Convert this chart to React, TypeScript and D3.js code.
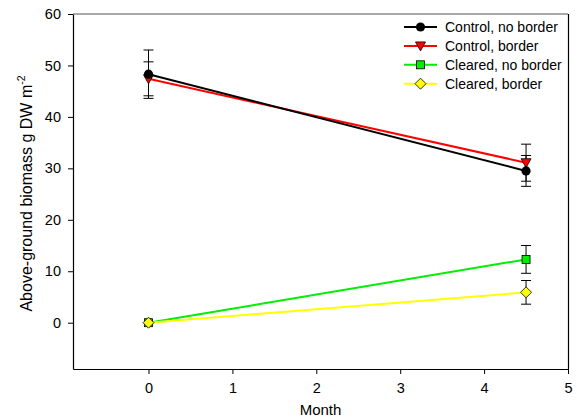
import React, { useEffect, useRef } from "react";
import * as d3 from "d3";

// x positions (months) and series values
const months = [0, 4.5];
const seriesNames = ["Control, no border", "Control, border", "Cleared, no border", "Cleared, border"];
const controlNoBorder = [48.3, 29.5];
const controlNoBorderErr = [4.7, 3.0];
const controlBorder = [47.4, 31.1];
const controlBorderErr = [3.3, 3.6];
const clearedNoBorder = [0, 12.3];
const clearedNoBorderErr = [0, 2.7];
const clearedBorder = [0, 5.9];
const clearedBorderErr = [0, 2.3];

const xTicks = [0, 1, 2, 3, 4, 5];
const yTicks = [0, 10, 20, 30, 40, 50, 60];

const FONT = "'Liberation Sans', Arial, sans-serif";

const App = () => {
  const svgRef = useRef<SVGSVGElement | null>(null);

  useEffect(() => {
    const width = 577,
      height = 418;
    const margin = { top: 14, right: 9, bottom: 49, left: 73 };

    const svg = d3.select(svgRef.current);
    svg.selectAll("*").remove();

    const x = d3
      .scaleLinear()
      .domain([-0.9, 5])
      .range([margin.left, width - margin.right]);
    const y = d3
      .scaleLinear()
      .domain([-9, 60])
      .range([height - margin.bottom, margin.top]);

    const series = [
      { name: seriesNames[0], values: controlNoBorder, err: controlNoBorderErr, color: "#000000", marker: "circle" },
      { name: seriesNames[1], values: controlBorder, err: controlBorderErr, color: "#ff0000", marker: "triangle" },
      { name: seriesNames[2], values: clearedNoBorder, err: clearedNoBorderErr, color: "#00ee00", marker: "square" },
      { name: seriesNames[3], values: clearedBorder, err: clearedBorderErr, color: "#ffff00", marker: "diamond" },
    ];

    // frame: top and right borders
    svg
      .append("line")
      .attr("x1", margin.left)
      .attr("x2", width - margin.right)
      .attr("y1", margin.top)
      .attr("y2", margin.top)
      .attr("stroke", "#555")
      .attr("stroke-width", 1.2);
    svg
      .append("line")
      .attr("x1", width - margin.right + 0.5)
      .attr("x2", width - margin.right + 0.5)
      .attr("y1", margin.top)
      .attr("y2", height - margin.bottom)
      .attr("stroke", "#000")
      .attr("stroke-width", 1.2);

    // axes
    const xAxis = svg
      .append("g")
      .attr("transform", `translate(0,${height - margin.bottom})`)
      .call(
        d3.axisBottom(x).tickValues(xTicks).tickFormat(d3.format("d")).tickSize(5).tickPadding(9).tickSizeOuter(0)
      );
    const yAxis = svg
      .append("g")
      .attr("transform", `translate(${margin.left},0)`)
      .call(
        d3.axisLeft(y).tickValues(yTicks).tickFormat(d3.format("d")).tickSize(5).tickPadding(7).tickSizeOuter(0)
      );

    [xAxis, yAxis].forEach((g) => {
      g.select(".domain").attr("stroke", "#000").attr("stroke-width", 1.2);
      g.selectAll(".tick line").attr("stroke", "#000");
      g.selectAll(".tick text").attr("font-family", FONT).attr("font-size", 14.5).attr("fill", "#000");
    });

    // axis titles
    svg
      .append("text")
      .attr("x", (margin.left + width - margin.right) / 2)
      .attr("y", 415)
      .attr("text-anchor", "middle")
      .attr("font-family", FONT)
      .attr("font-size", 15)
      .text("Month");

    const yLabel = svg
      .append("text")
      .attr("transform", `translate(32,${(margin.top + height - margin.bottom) / 2 + 2}) rotate(-90)`)
      .attr("text-anchor", "middle")
      .attr("font-family", FONT)
      .attr("font-size", 16);
    yLabel.append("tspan").text("Above-ground biomass g DW m");
    yLabel.append("tspan").attr("font-size", 10.5).attr("dy", -7).text("-2");

    const drawMarker = (g: any, type: string, cx: number, cy: number, color: string) => {
      if (type === "circle") {
        g.append("circle").attr("cx", cx).attr("cy", cy).attr("r", 4.6).attr("fill", "#000");
      } else if (type === "triangle") {
        g.append("path")
          .attr("d", `M${cx - 5},${cy - 4} L${cx + 5},${cy - 4} L${cx},${cy + 5} Z`)
          .attr("fill", color)
          .attr("stroke", "#000")
          .attr("stroke-width", 0.8);
      } else if (type === "square") {
        g.append("rect")
          .attr("x", cx - 4)
          .attr("y", cy - 4)
          .attr("width", 8)
          .attr("height", 8)
          .attr("fill", color)
          .attr("stroke", "#000")
          .attr("stroke-width", 0.8);
      } else {
        g.append("path")
          .attr("d", `M${cx},${cy - 5.5} L${cx + 5.5},${cy} L${cx},${cy + 5.5} L${cx - 5.5},${cy} Z`)
          .attr("fill", color)
          .attr("stroke", "#000")
          .attr("stroke-width", 0.8);
      }
    };

    const line = d3
      .line<number>()
      .x((d, i) => x(months[i]))
      .y((d) => y(d));

    // drawing order: black over red, yellow over green
    const order = [series[1], series[0], series[2], series[3]];
    const plot = svg.append("g");

    order.forEach((s) => {
      plot
        .append("path")
        .datum(s.values)
        .attr("d", line)
        .attr("fill", "none")
        .attr("stroke", s.color)
        .attr("stroke-width", 2);
    });

    order.forEach((s) => {
      s.values.forEach((v, i) => {
        if (s.err[i] <= 0) return;
        const cx = x(months[i]);
        const y1 = y(v + s.err[i]);
        const y2 = y(v - s.err[i]);
        plot.append("line").attr("x1", cx).attr("x2", cx).attr("y1", y1).attr("y2", y2).attr("stroke", "#000");
        [y1, y2].forEach((yy) => {
          plot
            .append("line")
            .attr("x1", cx - 5)
            .attr("x2", cx + 5)
            .attr("y1", yy)
            .attr("y2", yy)
            .attr("stroke", "#000");
        });
      });
    });

    order.forEach((s) => {
      s.values.forEach((v, i) => drawMarker(plot, s.marker, x(months[i]), y(v), s.color));
    });

    // legend
    const legend = svg.append("g");
    series.forEach((s, i) => {
      const ly = 27 + i * 18.9;
      legend
        .append("line")
        .attr("x1", 404)
        .attr("x2", 437)
        .attr("y1", ly)
        .attr("y2", ly)
        .attr("stroke", s.color)
        .attr("stroke-width", 2);
      drawMarker(legend, s.marker, 420.5, ly, s.color);
      legend
        .append("text")
        .attr("x", 445)
        .attr("y", ly + 5)
        .attr("font-family", FONT)
        .attr("font-size", 14)
        .text(s.name);
    });
  }, []);

  return (
    <div>
      <svg
        ref={svgRef}
        width={577}
        height={418}
        style={{ position: "absolute", left: 0, top: 0, background: "#fff" }}
      />
    </div>
  );
};

export default App;
